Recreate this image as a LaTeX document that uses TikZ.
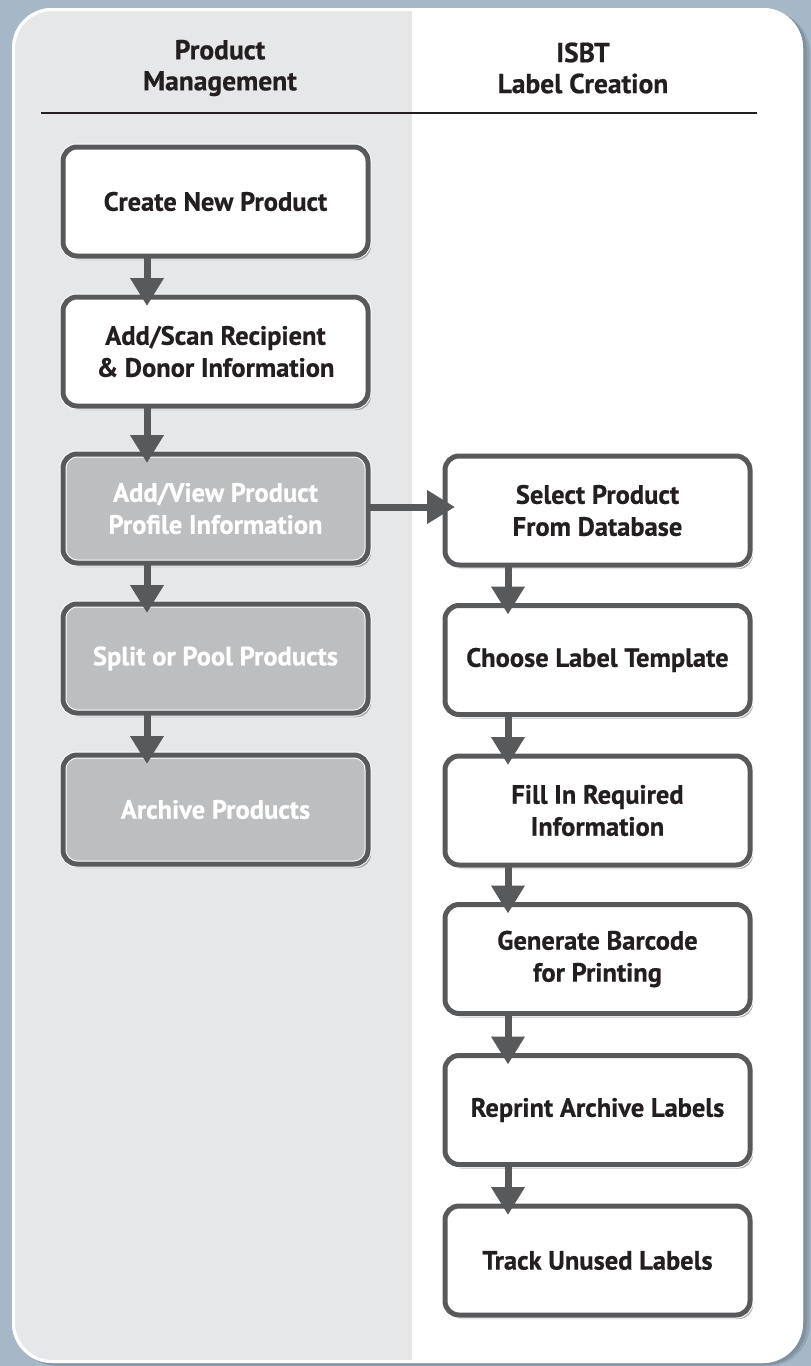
\documentclass[tikz,border=0pt]{standalone}
\usepackage{fontspec}
\setmainfont{PT Sans}
\newfontfamily\heavyfont{PT Sans Bold}[FakeBold=0.6]
\usetikzlibrary{arrows.meta,shadows}
\definecolor{bgblue}{HTML}{A6B8C7}
\definecolor{bgdark}{HTML}{5E6E7B}
\definecolor{colgray}{HTML}{E6E7E8}
\definecolor{boxborder}{HTML}{58595B}
\definecolor{boxgray}{HTML}{BCBEC0}
\definecolor{txtdark}{HTML}{231F20}
\begin{document}
\begin{tikzpicture}[x=1pt,y=-1pt,
  hdr/.style={align=center, font=\heavyfont\fontsize{27.5}{31}\selectfont, text=txtdark, inner sep=0pt},
  box/.style={draw=white, double=boxborder, double distance=5pt, line width=1pt,
    rounded corners=14pt, minimum width=305pt, minimum height=109pt,
    inner sep=0pt, outer sep=0pt, align=center, fill=white, text=txtdark,
    font=\heavyfont\fontsize{26.5}{32}\selectfont,
    drop shadow={shadow xshift=3pt, shadow yshift=-4pt, opacity=0.3, fill=black}},
  graybox/.style={box, fill=boxgray, text=white},
  arr/.style={draw=boxborder, line width=7pt, -{Triangle[width=32pt,length=28pt]}}]
\useasboundingbox (0,0) rectangle (811,1366);
\fill[bgblue] (0,0) rectangle (811,1366);
% panel shadow
\fill[bgdark, opacity=0.25, rounded corners=42pt] (16,11) rectangle (810,1366);
\fill[bgdark, opacity=0.35, rounded corners=41pt] (14,10) rectangle (807,1365);
% panel
\fill[white, rounded corners=40pt] (12,8) rectangle (803,1363);
\begin{scope}
  \clip[rounded corners=40pt] (12,8) rectangle (803,1363);
  \fill[colgray] (12,8) rectangle (412,1363);
\end{scope}
\draw[white, line width=3pt, rounded corners=39pt] (13.5,9.5) rectangle (801.5,1361.5);
% headers
\node[hdr] (h1) at (220,68) {Product\\Management};
\node[hdr] (h2) at (583,68) {ISBT\\Label Creation};
\coordinate (rl) at (41,113);
\coordinate (rr) at (757,113);
\draw[txtdark, line width=2pt] (rl) -- (rr);
% left column
\node[box] (a1) at (215.5,201.5) {Create New Product};
\node[box] (a2) at (215.5,351.5) {Add/Scan Recipient\\\& Donor Information};
\node[graybox] (a3) at (215.5,508.5) {Add/View Product\\Profile Information};
\node[graybox] (a4) at (215.5,658.5) {Split or Pool Products};
\node[graybox] (a5) at (215.5,809.5) {Archive Products};
% right column
\node[box] (b1) at (597.5,510.5) {Select Product\\From Database};
\node[box] (b2) at (597.5,660) {Choose Label Template};
\node[box] (b3) at (597.5,810.5) {Fill In Required\\Information};
\node[box] (b4) at (597.5,959) {Generate Barcode\\for Printing};
\node[box] (b5) at (597.5,1110) {Reprint Archive Labels};
\node[box] (b6) at (597.5,1260.5) {Track Unused Labels};
% arrows
\foreach \u/\v in {a1/a2,a2/a3,a3/a4,a4/a5}
  \draw[arr] ([xshift=-68.5pt]\u.south) -- ([xshift=-68.5pt,yshift=-9pt]\v.north);
\foreach \u/\v in {b1/b2,b2/b3,b3/b4,b4/b5,b5/b6}
  \draw[arr] ([xshift=-89.5pt]\u.south) -- ([xshift=-89.5pt,yshift=-9pt]\v.north);
\draw[arr, shorten >=-10pt] ([yshift=1.5pt]a3.east) -- ([yshift=1.5pt]a3.east -| b1.west);
\end{tikzpicture}
\end{document}
